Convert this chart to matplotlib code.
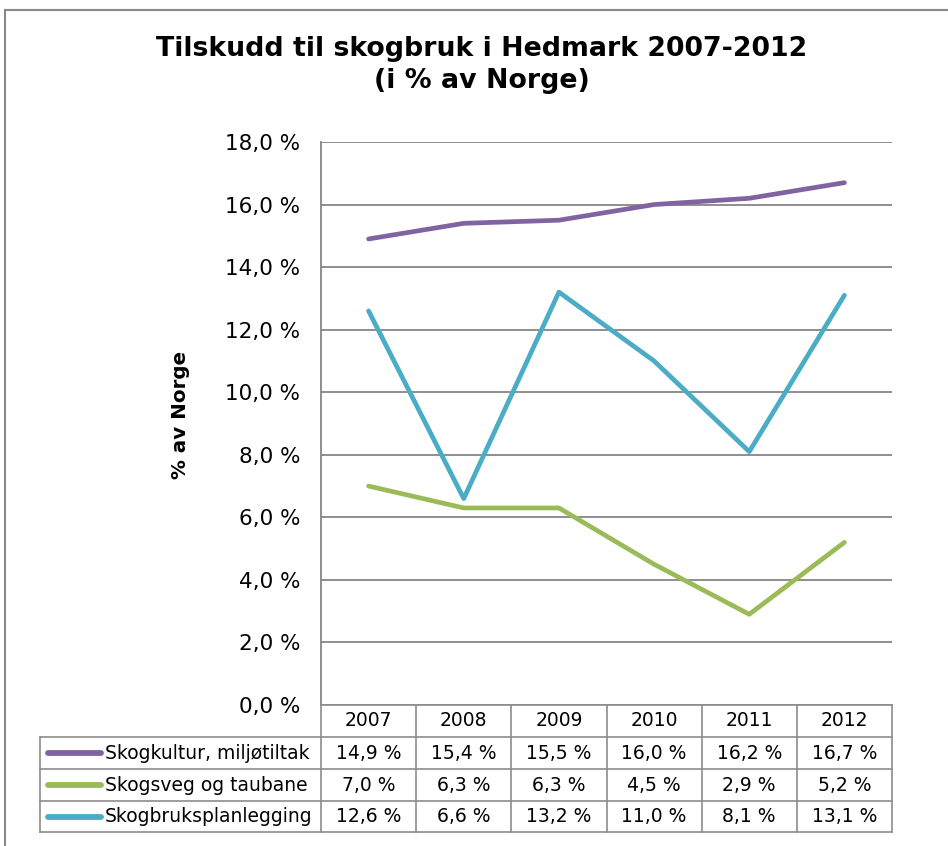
import matplotlib
matplotlib.use("Agg")
import matplotlib.pyplot as plt
from matplotlib.lines import Line2D
from matplotlib.transforms import blended_transform_factory

years = ["2007", "2008", "2009", "2010", "2011", "2012"]
series_names = ["Skogkultur, miljøtiltak", "Skogsveg og taubane", "Skogbruksplanlegging"]
skogkultur = [14.9, 15.4, 15.5, 16.0, 16.2, 16.7]
skogsveg = [7.0, 6.3, 6.3, 4.5, 2.9, 5.2]
planlegging = [12.6, 6.6, 13.2, 11.0, 8.1, 13.1]
colors = ["#8064A2", "#9BBB59", "#4BACC6"]

plt.rcParams['font.family'] = ['DejaVu Sans']

W, H = 948, 846
fig = plt.figure(figsize=(W / 100, H / 100), dpi=100)

# outer chart border (only top and left visible)
fig.add_artist(Line2D([5 / W, 5 / W], [0, 1 - 10 / H], color="#888888", lw=1.5))
fig.add_artist(Line2D([5 / W, 1], [1 - 10 / H, 1 - 10 / H], color="#888888", lw=1.5))

left, right, top, bottom = 321, 892, 142, 705
ax = fig.add_axes([left / W, 1 - bottom / H, (right - left) / W, (bottom - top) / H])

x = list(range(len(years)))
all_series = [skogkultur, skogsveg, planlegging]
for vals, c in zip(all_series, colors):
    ax.plot(x, vals, color=c, lw=3.4, solid_capstyle="round", solid_joinstyle="round", zorder=3)

ax.set_xlim(-0.5, len(years) - 0.5)
ax.set_ylim(0, 18)
yt = [0, 2, 4, 6, 8, 10, 12, 14, 16, 18]
ax.set_yticks(yt)
ax.set_yticklabels([f"{v:.1f} %".replace(".", ",") for v in yt], fontsize=15.5)
ax.tick_params(axis="y", length=0, pad=15)
ax.set_xticks([])
ax.grid(axis="y", color="#868686", lw=1.3)
for s in ["top", "right", "bottom"]:
    ax.spines[s].set_visible(False)
ax.spines["left"].set_color("#868686")
ax.spines["left"].set_linewidth(1.3)

fig.text(180 / W, 1 - 415 / H, "% av Norge", rotation=90, ha="center", va="center",
         fontsize=14.3, fontweight="bold")

fig.text(482 / W, 1 - 65 / H, "Tilskudd til skogbruk i Hedmark 2007-2012\n(i % av Norge)",
         ha="center", va="center", fontsize=19.3, fontweight="bold", linespacing=1.27)

# data table under the axis
tr = blended_transform_factory(ax.transData, fig.transFigure)
grid_c = "#8c8c8c"
row_edges = [705, 737, 769, 801, 832]
fy = lambda p: 1 - p / H
fx = lambda p: p / W
tab_left = 40
tfs = 13.5

# horizontal lines
fig.add_artist(Line2D([left / W, right / W], [fy(row_edges[0])] * 2, color=grid_c, lw=1.2))
for r in row_edges[1:]:
    fig.add_artist(Line2D([fx(tab_left), right / W], [fy(r)] * 2, color=grid_c, lw=1.2))
# vertical lines
for i in range(len(years) + 1):
    ax.add_line(Line2D([i - 0.5, i - 0.5], [fy(row_edges[0]), fy(row_edges[-1])],
                       transform=tr, color=grid_c, lw=1.2, clip_on=False))
fig.add_artist(Line2D([fx(tab_left)] * 2, [fy(row_edges[1]), fy(row_edges[-1])], color=grid_c, lw=1.2))

hy = (row_edges[0] + row_edges[1]) / 2
for i, yr in enumerate(years):
    ax.text(i, fy(hy), yr, transform=tr, ha="center", va="center", fontsize=tfs)

for k, (name, vals, c) in enumerate(zip(series_names, all_series, colors)):
    cy = (row_edges[k + 1] + row_edges[k + 2]) / 2
    fig.add_artist(Line2D([fx(48), fx(101)], [fy(cy)] * 2, color=c, lw=4.2, solid_capstyle="round"))
    fig.text(fx(105), fy(cy), name, ha="left", va="center", fontsize=tfs)
    for i, v in enumerate(vals):
        ax.text(i, fy(cy), f"{v:.1f} %".replace(".", ","), transform=tr,
                ha="center", va="center", fontsize=tfs)

fig.savefig("out.png", dpi=100)
